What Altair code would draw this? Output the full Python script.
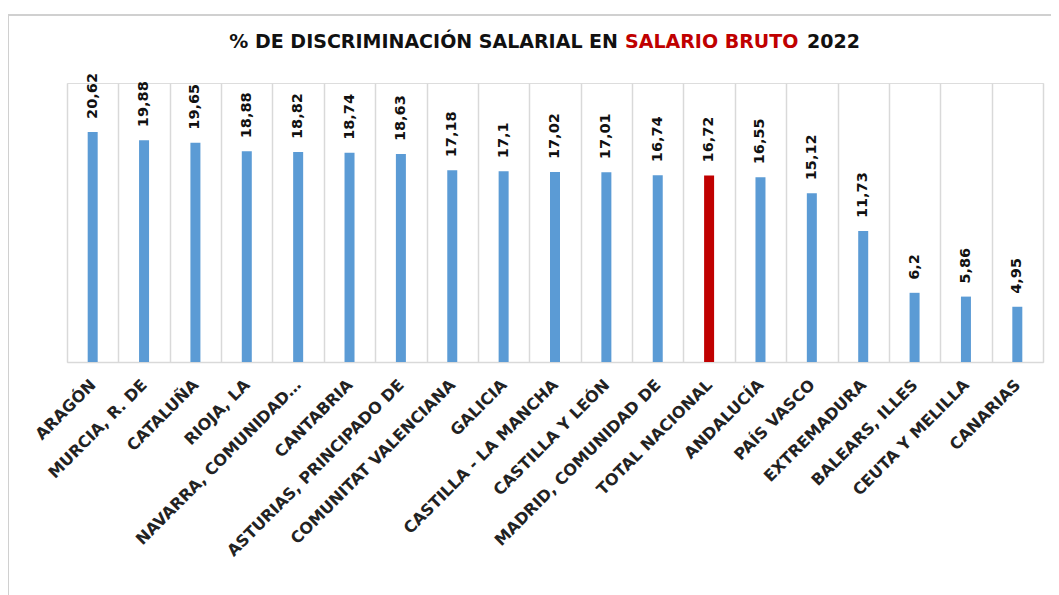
import altair as alt
import pandas as pd

regions = ["ARAGÓN", "MURCIA, R. DE", "CATALUÑA", "RIOJA, LA", "NAVARRA, COMUNIDAD…",
           "CANTABRIA", "ASTURIAS, PRINCIPADO DE", "COMUNITAT VALENCIANA", "GALICIA",
           "CASTILLA - LA MANCHA", "CASTILLA Y LEÓN", "MADRID, COMUNIDAD DE",
           "TOTAL NACIONAL", "ANDALUCÍA", "PAÍS VASCO", "EXTREMADURA",
           "BALEARS, ILLES", "CEUTA Y MELILLA", "CANARIAS"]
values = [20.62, 19.88, 19.65, 18.88, 18.82, 18.74, 18.63, 17.18, 17.1, 17.02,
          17.01, 16.74, 16.72, 16.55, 15.12, 11.73, 6.2, 5.86, 4.95]
highlight = "TOTAL NACIONAL"

df = pd.DataFrame({"region": regions, "value": values})
df["label"] = [str(v).replace(".", ",") for v in values]
df["kind"] = ["total" if r == highlight else "region" for r in regions]

W, H = 976, 279
FONT = "DejaVu Sans"

x_enc = alt.X("region:N", sort=regions,
              scale=alt.Scale(paddingInner=0, paddingOuter=0),
              axis=alt.Axis(title=None, labelAngle=-45, labelAlign="right",
                            labelBaseline="middle", labelFont=FONT,
                            labelFontSize=16, labelFontWeight="bold",
                            labelColor="#222222", labelPadding=20,
                            labelLimit=400, ticks=False, domain=True,
                            domainColor="#D9D9D9", domainWidth=1.5,
                            grid=True, gridColor="#D9D9D9", gridWidth=1.5,
                            tickBand="extent"))
y_enc = alt.Y("value:Q", scale=alt.Scale(domain=[0, 25], nice=False),
              axis=None)

base = alt.Chart(df)

bars = base.mark_bar(size=10).encode(
    x=x_enc, y=y_enc,
    color=alt.Color("kind:N", scale=alt.Scale(domain=["region", "total"],
                                               range=["#5B9BD5", "#C00000"]),
                    legend=None))

labels = base.mark_text(angle=270, align="left", baseline="middle", dx=13,
                        font=FONT, fontSize=14.5, fontWeight="bold",
                        color="#111111").encode(
    x=alt.X("region:N", sort=regions), y="value:Q", text="label:N")

TS = 19
t_left = alt.Chart(pd.DataFrame({"t": ["% DE DISCRIMINACIÓN SALARIAL EN"]})).mark_text(
    align="right", baseline="middle", font=FONT, fontSize=TS, fontWeight="bold",
    color="#111111").encode(x=alt.value(551), y=alt.value(-41), text="t:N")
t_red = alt.Chart(pd.DataFrame({"t": ["SALARIO BRUTO"]})).mark_text(
    align="left", baseline="middle", font=FONT, fontSize=TS, fontWeight="bold",
    color="#C00000").encode(x=alt.value(558), y=alt.value(-41), text="t:N")
t_year = alt.Chart(pd.DataFrame({"t": ["2022"]})).mark_text(
    align="left", baseline="middle", font=FONT, fontSize=TS, fontWeight="bold",
    color="#111111").encode(x=alt.value(740), y=alt.value(-41), text="t:N")

border = alt.Chart(pd.DataFrame({"a": [0]})).mark_rect(
    fill=None, stroke="#D0D0D0", strokeWidth=2).encode(
    x=alt.value(-59), x2=alt.value(W + 40), y=alt.value(-68), y2=alt.value(H + 300))

chart = alt.layer(border, bars, labels, t_left, t_red, t_year).properties(
    width=W, height=H,
    autosize=alt.AutoSizeParams(type="none"),
    padding={"left": 59, "top": 75, "right": 8, "bottom": 233},
).configure_view(stroke=None).configure(background="white")

chart.save("out.html", embed_options={"renderer": "svg", "actions": False})
